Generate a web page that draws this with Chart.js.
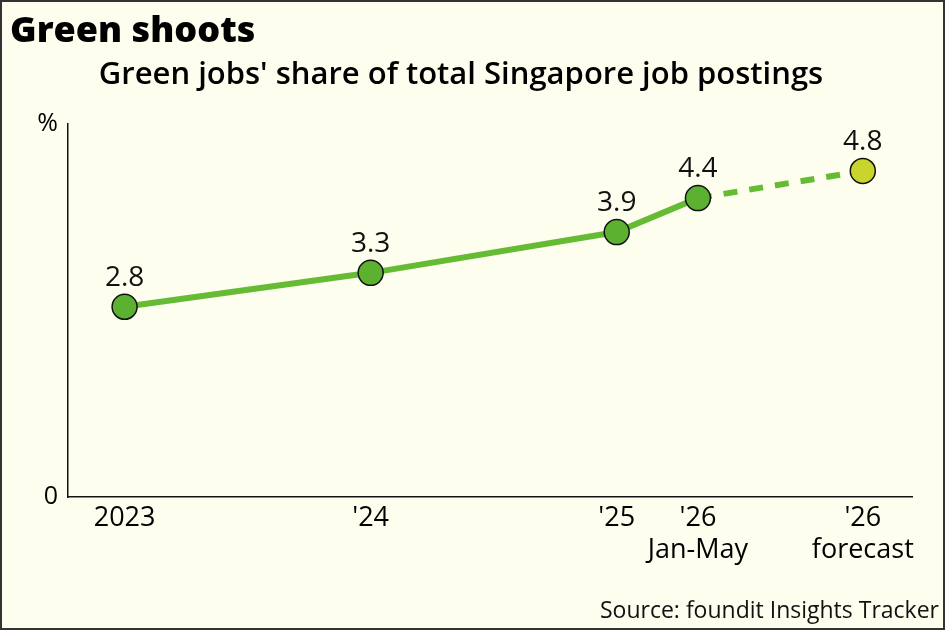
<!DOCTYPE html>
<html>
<head>
<meta charset="utf-8">
<script src="https://cdn.jsdelivr.net/npm/chart.js@4"></script>
<style>
  body { margin: 0; background: #fff; }
  #wrap {
    width: 945px; height: 630px; box-sizing: border-box;
    border: 2px solid #333; background: #fefeef;
  }
</style>
</head>
<body>
<div id="wrap"><canvas id="chart"></canvas></div>
<script>
// periods placed on a year axis (Jan-May sits a third into the year)
const positions = [2023, 2024, 2025, 2025.33, 2026];
const tickLabels = [["2023"], ["'24"], ["'25"], ["'26", "Jan-May"], ["'26", "forecast"]];
const shares = [2.8, 3.3, 3.9, 4.4, 4.8];

const FONT = "'Open Sans', sans-serif";
const green = "#66bb35";
const dotGreen = "#5cb131";
const dotForecast = "#c9d42c";

const valueLabels = {
  id: "valueLabels",
  afterDatasetsDraw(chart) {
    const ctx = chart.ctx;
    const meta = chart.getDatasetMeta(0);
    ctx.save();
    ctx.font = "500 28px " + FONT;
    ctx.fillStyle = "#111";
    ctx.textAlign = "center";
    ctx.textBaseline = "bottom";
    meta.data.forEach((pt, i) => {
      ctx.fillText(shares[i].toFixed(1), pt.x, pt.y - 15);
    });
    ctx.restore();
  }
};

const sourceNote = {
  id: "sourceNote",
  afterDraw(chart) {
    const ctx = chart.ctx;
    ctx.save();
    ctx.font = "23px " + FONT;
    ctx.fillStyle = "#111";
    ctx.textAlign = "right";
    ctx.textBaseline = "alphabetic";
    ctx.fillText("Source: foundit Insights Tracker", chart.width - 4, 616);
    ctx.restore();
  }
};

new Chart(document.getElementById("chart"), {
  type: "line",
  data: {
    datasets: [{
      data: positions.map((x, i) => ({ x, y: shares[i] })),
      borderColor: green,
      borderWidth: 6,
      pointRadius: 12.5,
      pointHoverRadius: 12.5,
      pointBorderColor: "#111",
      pointBorderWidth: 1.5,
      pointBackgroundColor: [dotGreen, dotGreen, dotGreen, dotGreen, dotForecast],
      segment: {
        borderDash: c => c.p1DataIndex === 4 ? [14, 12] : undefined
      }
    }]
  },
  options: {
    responsive: true,
    maintainAspectRatio: false,
    animation: false,
    layout: { padding: { left: 8, right: 31, top: 0, bottom: 0 } },
    plugins: {
      legend: { display: false },
      tooltip: { enabled: false },
      title: {
        display: true,
        text: "Green shoots",
        align: "start",
        color: "#000",
        font: { family: FONT, size: 36, weight: "800" },
        padding: { top: 8, bottom: 3 }
      },
      subtitle: {
        display: true,
        text: "Green jobs' share of total Singapore job postings",
        color: "#000",
        font: { family: FONT, size: 31, weight: "600" },
        padding: { top: 0, bottom: 30 }
      }
    },
    scales: {
      x: {
        type: "linear",
        min: 2022.77,
        max: 2026.2,
        afterFit: s => { s.height = 131; },
        afterBuildTicks: s => { s.ticks = positions.map(v => ({ value: v })); },
        grid: { display: false, drawTicks: false },
        border: { color: "#111", width: 1.5 },
        ticks: {
          color: "#000",
          padding: 5,
          maxRotation: 0,
          autoSkip: false,
          font: { family: FONT, size: 27 },
          callback: (v, i) => tickLabels[i]
        }
      },
      y: {
        min: 0,
        max: 5.5,
        afterFit: s => { s.width = 58; },
        afterBuildTicks: s => { s.ticks = [{ value: 0 }, { value: 5.5 }]; },
        grid: { display: false, drawTicks: false },
        border: { color: "#111", width: 1.5 },
        ticks: {
          color: "#000",
          padding: 10,
          font: { family: FONT, size: 25 },
          callback: v => v === 0 ? "0" : "%"
        }
      }
    }
  },
  plugins: [valueLabels, sourceNote]
});
</script>
</body>
</html>
